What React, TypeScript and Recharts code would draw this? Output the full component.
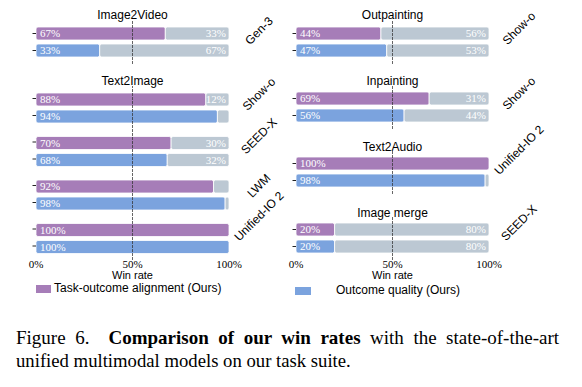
import React from 'react';
import { BarChart, Bar, XAxis, YAxis, ReferenceLine, LabelList } from 'recharts';

// ---------- data ----------
const IMAGE2VIDEO_MODELS = ['Gen-3'];
const IMAGE2VIDEO_ALIGN = [67];
const IMAGE2VIDEO_QUALITY = [33];

const TEXT2IMAGE_MODELS = ['Show-o', 'SEED-X', 'LWM', 'Unified-IO 2'];
const TEXT2IMAGE_ALIGN = [88, 70, 92, 100];
const TEXT2IMAGE_QUALITY = [94, 68, 98, 100];

const OUTPAINTING_MODELS = ['Show-o'];
const OUTPAINTING_ALIGN = [44];
const OUTPAINTING_QUALITY = [47];

const INPAINTING_MODELS = ['Show-o'];
const INPAINTING_ALIGN = [69];
const INPAINTING_QUALITY = [56];

const TEXT2AUDIO_MODELS = ['Unified-IO 2'];
const TEXT2AUDIO_ALIGN = [100];
const TEXT2AUDIO_QUALITY = [98];

const IMAGEMERGE_MODELS = ['SEED-X'];
const IMAGEMERGE_ALIGN = [20];
const IMAGEMERGE_QUALITY = [20];

const X_TICKS = [0, 50, 100];
const X_LABEL = 'Win rate';
const LEGEND_ALIGN = 'Task-outcome alignment (Ours)';
const LEGEND_QUALITY = 'Outcome quality (Ours)';

// ---------- style ----------
const PURPLE = '#a67db8';
const BLUE = '#7ba3de';
const GREY = '#bcc8d3';
const SANS = '"Liberation Sans", Arial, sans-serif';
const SERIF = '"Liberation Serif", "Times New Roman", serif';

const BAR = 13;
const GAP = 4;
const AXIS_L = 36;
const PLOT_W = 193;
const AXIS_R = 90;
const X_AXIS_H = 22;
const MODEL_FONT = 12;

type Row = { model: string; align: number; alignRest: number; quality: number; qualityRest: number };

function buildRows(models: string[], align: number[], quality: number[]): Row[] {
  return models.map((m, i) => ({
    model: m,
    align: align[i],
    alignRest: 100 - align[i],
    quality: quality[i],
    qualityRest: 100 - quality[i],
  }));
}

let measureCtx: CanvasRenderingContext2D | null = null;
function textWidth(s: string, font: string): number {
  if (!measureCtx) {
    const c = document.createElement('canvas');
    measureCtx = c.getContext('2d');
  }
  if (!measureCtx) return s.length * 6;
  measureCtx.font = font;
  return measureCtx.measureText(s).width;
}

const ModelTick = (props: any) => {
  const { x, y, payload } = props;
  const label = String(payload.value);
  const L = textWidth(label, `${MODEL_FONT}px ${SANS}`);
  const half = (L + 11) / (2 * Math.SQRT2);
  const cx = x + 30;
  const cy = y + 4.5 - half;
  return (
    <text
      x={cx}
      y={cy}
      transform={`rotate(-45 ${cx} ${cy})`}
      textAnchor="middle"
      dominantBaseline="central"
      fontFamily={SANS}
      fontSize={MODEL_FONT}
      fill="#000"
    >
      {label}
    </text>
  );
};

function makePairTick(band: number) {
  const off = Math.floor((band - (2 * BAR + GAP)) / 2);
  const c1 = off + BAR / 2 - band / 2;
  const c2 = off + BAR + GAP + BAR / 2 - band / 2;
  return (props: any) => {
    const { x, y } = props;
    return (
      <g>
        <line x1={x - 3.5} x2={x} y1={y + c1} y2={y + c1} stroke="#222" strokeWidth={1} />
        <line x1={x - 3.5} x2={x} y1={y + c2} y2={y + c2} stroke="#222" strokeWidth={1} />
      </g>
    );
  };
}

const pct = (v: any) => `${v}%`;
const pctRest = (v: any) => (Number(v) >= 10 ? `${v}%` : '');

type PanelProps = {
  left: number;
  top: number;
  plotH: number;
  models: string[];
  align: number[];
  quality: number[];
  showX?: boolean;
};

function Panel({ left, top, plotH, models, align, quality, showX }: PanelProps) {
  const rows = buildRows(models, align, quality);
  const band = plotH / models.length;
  const width = AXIS_L + PLOT_W + AXIS_R;
  const height = plotH + (showX ? X_AXIS_H : 0);
  const labelProps = { fill: '#fff', fontSize: 11, fontFamily: SERIF };
  const barCommon = {
    yAxisId: 'l',
    barSize: BAR,
    radius: 2 as any,
    stroke: '#ffffff',
    strokeWidth: 0.8,
    isAnimationActive: false,
  };
  return (
    <div style={{ position: 'absolute', left, top, width, height, overflow: 'visible' }}>
      <BarChart
        layout="vertical"
        width={width}
        height={height}
        data={rows}
        margin={{ top: 0, right: 0, bottom: 0, left: 0 }}
        barGap={GAP}
        barCategoryGap={0}
        style={{ overflow: 'visible' }}
      >
        <XAxis
          type="number"
          domain={[0, 100]}
          ticks={X_TICKS}
          interval={0}
          hide={!showX}
          height={showX ? X_AXIS_H : 0}
          axisLine={false}
          tickLine={false}
          tickSize={0}
          tickMargin={0}
          tickFormatter={pct}
          tick={{ fontFamily: SERIF, fontSize: 11, fill: '#000' }}
          label={
            showX
              ? { value: X_LABEL, position: 'insideBottom', offset: 3, fontFamily: SANS, fontSize: 11, fill: '#000' }
              : undefined
          }
        />
        <YAxis
          yAxisId="l"
          type="category"
          dataKey="model"
          width={AXIS_L}
          axisLine={false}
          tickLine={false}
          tickSize={0}
          tickMargin={0}
          interval={0}
          tick={makePairTick(band)}
        />
        <YAxis
          yAxisId="r"
          orientation="right"
          type="category"
          dataKey="model"
          width={AXIS_R}
          axisLine={false}
          tickLine={false}
          tickSize={0}
          tickMargin={0}
          interval={0}
          tick={ModelTick}
        />
        <Bar {...barCommon} dataKey="align" stackId="a" fill={PURPLE}>
          <LabelList dataKey="align" position="insideLeft" offset={4} formatter={pct} {...labelProps} />
        </Bar>
        <Bar {...barCommon} dataKey="alignRest" stackId="a" fill={GREY}>
          <LabelList dataKey="alignRest" position="insideRight" offset={3} formatter={pctRest} {...labelProps} />
        </Bar>
        <Bar {...barCommon} dataKey="quality" stackId="b" fill={BLUE}>
          <LabelList dataKey="quality" position="insideLeft" offset={4} formatter={pct} {...labelProps} />
        </Bar>
        <Bar {...barCommon} dataKey="qualityRest" stackId="b" fill={GREY}>
          <LabelList dataKey="qualityRest" position="insideRight" offset={3} formatter={pctRest} {...labelProps} />
        </Bar>
        <ReferenceLine yAxisId="l" x={50} stroke="#333" strokeOpacity={0.75} strokeWidth={1} strokeDasharray="3 1" />
      </BarChart>
    </div>
  );
}

function Title({ text, cx, top }: { text: string; cx: number; top: number }) {
  return (
    <div
      style={{
        position: 'absolute',
        left: cx - 100,
        top,
        width: 200,
        textAlign: 'center',
        fontFamily: SANS,
        fontSize: 12,
        lineHeight: '16px',
        color: '#000',
      }}
    >
      {text}
    </div>
  );
}

export default function App() {
  const LEFT = 0;
  const RIGHT = 260;
  const cxL = LEFT + AXIS_L + PLOT_W / 2;
  const cxR = RIGHT + AXIS_L + PLOT_W / 2;
  return (
    <div style={{ position: 'absolute', left: 0, top: 0, width: 582, height: 387, background: '#fff', overflow: 'hidden' }}>
      <style>{'.recharts-surface{overflow:visible}.recharts-wrapper{overflow:visible}'}</style>
      <Title text="Image2Video" cx={cxL} top={7} />
      <Panel left={LEFT} top={20} plotH={44} models={IMAGE2VIDEO_MODELS} align={IMAGE2VIDEO_ALIGN} quality={IMAGE2VIDEO_QUALITY} />
      <Title text="Text2Image" cx={cxL} top={73} />
      <Panel left={LEFT} top={86} plotH={174} models={TEXT2IMAGE_MODELS} align={TEXT2IMAGE_ALIGN} quality={TEXT2IMAGE_QUALITY} showX />

      <Title text="Outpainting" cx={cxR} top={7} />
      <Panel left={RIGHT} top={20} plotH={44} models={OUTPAINTING_MODELS} align={OUTPAINTING_ALIGN} quality={OUTPAINTING_QUALITY} />
      <Title text="Inpainting" cx={cxR} top={73} />
      <Panel left={RIGHT} top={85} plotH={44} models={INPAINTING_MODELS} align={INPAINTING_ALIGN} quality={INPAINTING_QUALITY} />
      <Title text="Text2Audio" cx={cxR} top={139} />
      <Panel left={RIGHT} top={150} plotH={44} models={TEXT2AUDIO_MODELS} align={TEXT2AUDIO_ALIGN} quality={TEXT2AUDIO_QUALITY} />
      <Title text="Image merge" cx={cxR} top={205} />
      <Panel left={RIGHT} top={216} plotH={44} models={IMAGEMERGE_MODELS} align={IMAGEMERGE_ALIGN} quality={IMAGEMERGE_QUALITY} showX />

      {/* legend */}
      <div style={{ position: 'absolute', left: 36, top: 285, width: 15, height: 8, background: PURPLE }} />
      <div style={{ position: 'absolute', left: 54, top: 280, fontFamily: SANS, fontSize: 12, lineHeight: '16px', whiteSpace: 'nowrap' }}>
        {LEGEND_ALIGN}
      </div>
      <div style={{ position: 'absolute', left: 295, top: 287, width: 16, height: 8, background: BLUE }} />
      <div style={{ position: 'absolute', left: 336, top: 282, fontFamily: SANS, fontSize: 12, lineHeight: '16px', whiteSpace: 'nowrap' }}>
        {LEGEND_QUALITY}
      </div>

      {/* caption */}
      <div
        style={{
          position: 'absolute',
          left: 16,
          top: 326,
          width: 543,
          fontFamily: SERIF,
          fontSize: 19,
          lineHeight: '23px',
          textAlign: 'justify',
          textAlignLast: 'justify' as any,
          whiteSpace: 'nowrap',
          color: '#000',
        }}
      >
        Figure 6.&nbsp; <b>Comparison of our win rates</b> with the state-of-the-art
      </div>
      <div
        style={{
          position: 'absolute',
          left: 16,
          top: 349,
          fontFamily: SERIF,
          fontSize: 18.7,
          lineHeight: '23px',
          whiteSpace: 'nowrap',
          color: '#000',
        }}
      >
        unified multimodal models on our task suite.
      </div>
    </div>
  );
}
